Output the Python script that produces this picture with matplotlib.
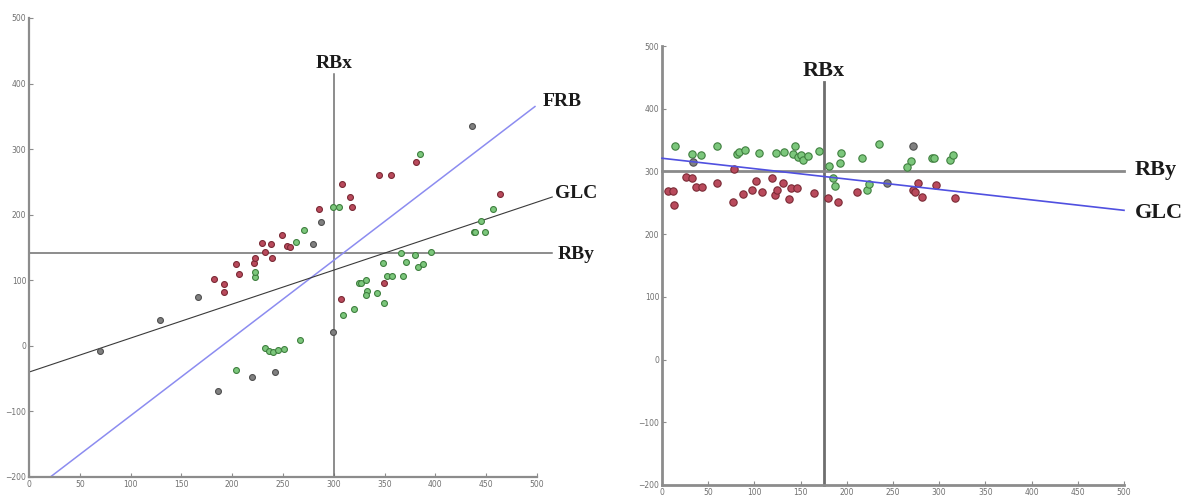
import matplotlib.pyplot as plt

# ---- left panel data ----
l_red_x = [182, 192, 192, 204, 207, 221, 222, 229, 232, 238, 239, 249, 254, 257, 285, 308, 316, 318, 344, 356, 381, 307, 349, 464]
l_red_y = [102, 95, 82, 125, 110, 127, 134, 157, 143, 156, 134, 169, 153, 150, 209, 247, 227, 212, 261, 261, 281, 72, 96, 232]
l_green_x = [222, 222, 204, 232, 236, 240, 245, 251, 267, 263, 271, 299, 305, 309, 320, 325, 327, 332, 333, 332, 343, 349,
             348, 352, 357, 368, 366, 371, 380, 383, 388, 396, 438, 439, 449, 445, 457, 385]
l_green_y = [105, 113, -37, -3, -8, -10, -6, -5, 9, 159, 176, 212, 212, 47, 56, 96, 96, 101, 83, 78, 81, 66,
             126, 107, 107, 107, 142, 128, 139, 121, 125, 143, 174, 174, 174, 190, 208, 293]
l_gray_x = [70, 129, 166, 186, 219, 242, 287, 280, 299, 436]
l_gray_y = [-8, 40, 75, -69, -47, -40, 189, 156, 21, 336]

# reference lines, left
l_rbx = 300
l_rby = 142
l_frb_x = [21, 498]
l_frb_y = [-200, 365]
l_glc_x = [0, 515]
l_glc_y = [-40, 227]

# ---- right panel data ----
r_green_x = [14, 33, 42, 60, 81, 83, 90, 105, 123, 132, 142, 144, 147, 150, 153, 158, 170, 181, 194, 193, 216, 235,
             269, 265, 187, 222, 224, 185, 292, 294, 312, 315]
r_green_y = [340, 327, 326, 340, 327, 331, 334, 329, 329, 331, 327, 340, 323, 326, 319, 324, 332, 308, 329, 313, 321, 343,
             316, 307, 276, 271, 280, 289, 321, 321, 319, 326]
r_red_x = [7, 12, 13, 26, 32, 37, 43, 60, 77, 78, 88, 97, 102, 108, 119, 122, 124, 131, 137, 140, 146, 165, 180, 190, 211,
           277, 272, 274, 281, 297, 317]
r_red_y = [268, 268, 246, 291, 289, 275, 275, 281, 251, 304, 264, 271, 284, 267, 289, 262, 270, 281, 256, 273, 273, 265, 257, 251, 267,
           281, 271, 267, 259, 278, 257]
r_gray_x = [34, 243, 272]
r_gray_y = [315, 281, 340]

r_rbx = 175
r_rbx_top = 442
r_rby = 300
r_glc_x = [0, 500]
r_glc_y = [321, 238]

red_face, red_edge = '#b94a5c', '#7a2a35'
green_face, green_edge = '#7cc77c', '#3f7f3f'
gray_face, gray_edge = '#808080', '#505050'
spine_c = '#8c8c8c'
lab_font = dict(family='Liberation Serif', fontweight='bold', color='#1a1a1a')

fig = plt.figure(figsize=(11.85, 5.0), dpi=100)
ax1 = fig.add_axes([29 / 1185, 1 - 477 / 500, 508 / 1185, 459 / 500])
ax2 = fig.add_axes([662 / 1185, 1 - 485 / 500, 462 / 1185, 439 / 500])


def style(ax, lw):
    ax.set_xlim(0, 500)
    ax.set_ylim(-200, 500)
    for s in ['top', 'right']:
        ax.spines[s].set_visible(False)
    for s in ['left', 'bottom']:
        ax.spines[s].set_color(spine_c)
        ax.spines[s].set_linewidth(lw)
    ax.set_xticks(range(0, 501, 50))
    ax.set_yticks(range(-200, 501, 100))
    ax.tick_params(direction='in', length=3, width=0.8, color=spine_c,
                   labelsize=5.5, labelcolor='#707070', pad=2)


def dots(ax, x, y, fc, ec, s=18):
    ax.scatter(x, y, s=s, c=fc, edgecolors=ec, linewidths=0.8, zorder=3, clip_on=False)


# left
style(ax1, 1.6)
ax1.plot([l_rbx, l_rbx], [-200, 415], color='#6e6e6e', lw=1.1, zorder=2, clip_on=False)
ax1.plot([0, 515], [l_rby, l_rby], color='#6e6e6e', lw=1.1, zorder=2, clip_on=False)
ax1.plot(l_frb_x, l_frb_y, color='#8c8cf0', lw=1.1, zorder=2, clip_on=False)
ax1.plot(l_glc_x, l_glc_y, color='#3a3a3a', lw=0.8, zorder=2, clip_on=False)
dots(ax1, l_red_x, l_red_y, red_face, red_edge)
dots(ax1, l_green_x, l_green_y, green_face, green_edge)
dots(ax1, l_gray_x, l_gray_y, gray_face, gray_edge)
ax1.text(l_rbx, 424, 'RBx', ha='center', va='baseline', fontsize=14, clip_on=False, **lab_font)
ax1.text(506, 372, 'FRB', ha='left', va='center', fontsize=14, clip_on=False, **lab_font)
ax1.text(518, 233, 'GLC', ha='left', va='center', fontsize=14, clip_on=False, **lab_font)
ax1.text(520, 139, 'RBy', ha='left', va='center', fontsize=14, clip_on=False, **lab_font)

# right
style(ax2, 2.0)
ax2.plot([r_rbx, r_rbx], [-200, r_rbx_top], color='#6e6e6e', lw=2.0, zorder=2, clip_on=False)
ax2.plot([0, 500], [r_rby, r_rby], color='#8a8a8a', lw=2.0, zorder=2, clip_on=False)
ax2.plot(r_glc_x, r_glc_y, color='#5050e0', lw=1.2, zorder=4, clip_on=False)
dots(ax2, r_red_x, r_red_y, red_face, red_edge, s=28)
dots(ax2, r_green_x, r_green_y, green_face, green_edge, s=28)
dots(ax2, r_gray_x, r_gray_y, gray_face, gray_edge, s=28)
ax2.text(r_rbx, 452, 'RBx', ha='center', va='baseline', fontsize=16, clip_on=False, **lab_font)
ax2.text(512, 302, 'RBy', ha='left', va='center', fontsize=16, clip_on=False, **lab_font)
ax2.text(512, 233, 'GLC', ha='left', va='center', fontsize=16, clip_on=False, **lab_font)

fig.savefig('out.png', dpi=100)
